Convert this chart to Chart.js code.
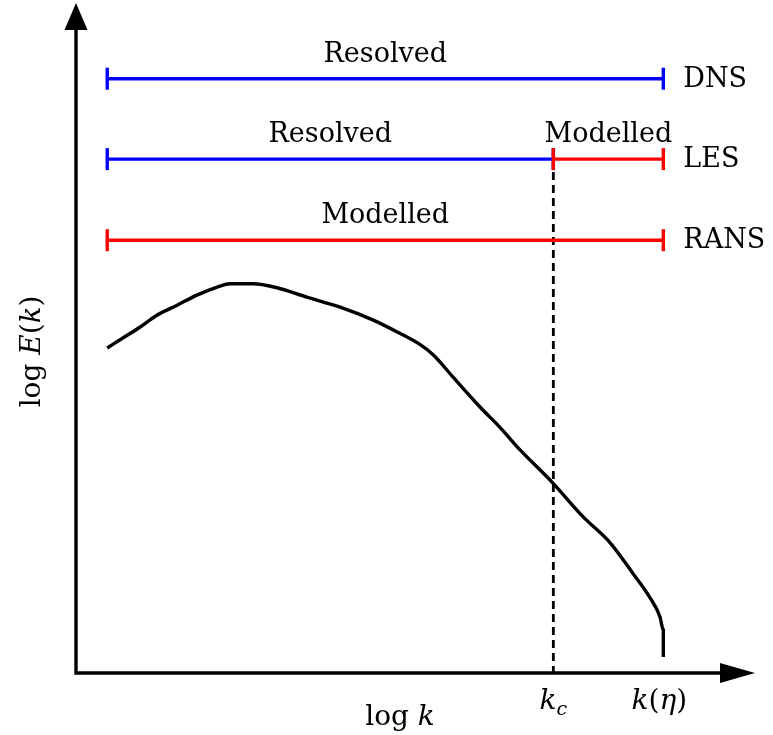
<!DOCTYPE html>
<html>
<head>
<meta charset="utf-8">
<script src="https://cdn.jsdelivr.net/npm/chart.js@4.4.1/dist/chart.umd.min.js"></script>
<style>
  html, body { margin: 0; padding: 0; background: #fff; }
  canvas { display: block; }
</style>
</head>
<body>
<canvas id="chart" width="773" height="735"></canvas>
<script>
// axis ranges (arbitrary log units)
const xRange = [0, 100];
const yRange = [0, 100];

// resolved / modelled spans
const spanStart = 4.6;
const spanEnd = 86.5;
const kc = 70.3;
const rowNames = ['DNS', 'LES', 'RANS'];
const rowLevels = [88.7, 76.7, 64.6];

// energy spectrum E(k)
const spectrumX = [4.6, 6.9, 9.4, 11.9, 14.9, 17.8, 20.8, 22.7, 26.1, 29.6, 34.0, 38.9, 43.7, 47.3, 50.7, 52.6, 55.5, 59.5, 62.4, 65.4, 70.1, 74.7, 78.7, 82.0, 84.5, 86.0, 86.5, 86.5];
const spectrumY = [48.5, 50.0, 51.6, 53.4, 54.9, 56.4, 57.6, 58.1, 58.1, 57.5, 56.1, 54.6, 52.7, 50.9, 49.0, 47.5, 44.2, 39.7, 36.7, 33.3, 28.5, 23.3, 19.4, 14.9, 11.3, 8.4, 6.4, 2.4];

const BLUE = '#0000ff';
const RED = '#ff0000';
const SERIF = '"DejaVu Serif", "Liberation Serif", serif';
const LW = 3.4;

function span(x0, x1, y, color) {
  return {
    data: [{ x: x0, y: y }, { x: x1, y: y }],
    borderColor: color,
    borderWidth: LW,
    pointStyle: 'line',
    rotation: 90,
    pointRadius: 11,
    pointBorderWidth: LW,
    pointBorderColor: color,
    pointHoverRadius: 11,
    clip: false
  };
}

// later datasets are painted first, so the red LES span sits above the blue one
const datasets = [
  span(spanStart, spanEnd, rowLevels[0], BLUE),
  span(kc, spanEnd, rowLevels[1], RED),
  span(spanStart, kc, rowLevels[1], BLUE),
  span(spanStart, spanEnd, rowLevels[2], RED),
  {
    data: [{ x: kc, y: rowLevels[1] }, { x: kc, y: yRange[0] }],
    borderColor: '#000',
    borderWidth: 2.8,
    borderDash: [8, 5],
    pointRadius: 0,
    clip: false
  },
  {
    data: spectrumX.map((x, i) => ({ x: x, y: spectrumY[i] })),
    borderColor: '#000',
    borderWidth: LW,
    pointRadius: 0,
    cubicInterpolationMode: 'monotone',
    clip: false
  }
];

// draw a run of text pieces: [text, font, dy]
function runs(ctx, parts, x, y, align) {
  let total = 0;
  parts.forEach(p => { ctx.font = p[1]; total += ctx.measureText(p[0]).width; });
  let cx = align === 'center' ? x - total / 2 : x;
  ctx.textAlign = 'left';
  parts.forEach(p => {
    ctx.font = p[1];
    ctx.fillText(p[0], cx, y + (p[2] || 0));
    cx += ctx.measureText(p[0]).width;
  });
}

const decor = {
  id: 'decor',
  afterDatasetsDraw(chart) {
    const { ctx, chartArea, scales } = chart;
    const xs = scales.x, ys = scales.y;
    const L = chartArea.left, B = chartArea.bottom;
    ctx.save();
    ctx.fillStyle = '#000';
    ctx.strokeStyle = '#000';
    ctx.lineWidth = LW;
    // axes
    ctx.beginPath();
    ctx.moveTo(L, B); ctx.lineTo(L, chartArea.top + 22);
    ctx.moveTo(L - LW / 2, B); ctx.lineTo(chartArea.right - 30, B);
    ctx.stroke();
    ctx.beginPath();
    ctx.moveTo(L, chartArea.top); ctx.lineTo(L - 11.5, chartArea.top + 27); ctx.lineTo(L + 11.5, chartArea.top + 27);
    ctx.closePath(); ctx.fill();
    ctx.beginPath();
    ctx.moveTo(chartArea.right, B); ctx.lineTo(chartArea.right - 35, B - 10); ctx.lineTo(chartArea.right - 35, B + 10);
    ctx.closePath(); ctx.fill();

    // span labels
    ctx.textBaseline = 'alphabetic';
    ctx.font = '27px ' + SERIF;
    ctx.textAlign = 'center';
    const above = 17;
    ctx.fillText('Resolved', xs.getPixelForValue((spanStart + spanEnd) / 2), ys.getPixelForValue(rowLevels[0]) - above);
    ctx.fillText('Resolved', xs.getPixelForValue((spanStart + kc) / 2), ys.getPixelForValue(rowLevels[1]) - above);
    ctx.fillText('Modelled', xs.getPixelForValue((kc + spanEnd) / 2), ys.getPixelForValue(rowLevels[1]) - above);
    ctx.fillText('Modelled', xs.getPixelForValue((spanStart + spanEnd) / 2), ys.getPixelForValue(rowLevels[2]) - above);
    ctx.textAlign = 'left';
    ctx.textBaseline = 'middle';
    rowNames.forEach((n, i) => {
      ctx.fillText(n, xs.getPixelForValue(spanEnd) + 20, ys.getPixelForValue(rowLevels[i]) + 1);
    });

    // axis labels
    ctx.textBaseline = 'alphabetic';
    const it = 'italic 28px ' + SERIF, rm = '28px ' + SERIF, sub = 'italic 19px ' + SERIF;
    runs(ctx, [['k', it], ['c', sub, 6]], xs.getPixelForValue(kc), B + 36, 'center');
    runs(ctx, [['k', it], ['(', rm], ['η', it], [')', rm]], xs.getPixelForValue(spanEnd) - 4, B + 36, 'center');
    runs(ctx, [['log ', rm], ['k', it]], L + 324, B + 52, 'center');
    ctx.translate(L - 36, ys.getPixelForValue(48));
    ctx.rotate(-Math.PI / 2);
    runs(ctx, [['log ', rm], ['E', it], ['(', rm], ['k', it], [')', rm]], 0, 0, 'center');
    ctx.restore();
  }
};

new Chart(document.getElementById('chart'), {
  type: 'line',
  data: { datasets: datasets },
  options: {
    responsive: false,
    animation: false,
    devicePixelRatio: 1,
    layout: { autoPadding: false, padding: { left: 76, right: 18, top: 3, bottom: 62 } },
    plugins: { legend: { display: false }, tooltip: { enabled: false } },
    events: [],
    scales: {
      x: { type: 'linear', min: xRange[0], max: xRange[1], display: false },
      y: { type: 'linear', min: yRange[0], max: yRange[1], display: false }
    }
  },
  plugins: [decor]
});
</script>
</body>
</html>
